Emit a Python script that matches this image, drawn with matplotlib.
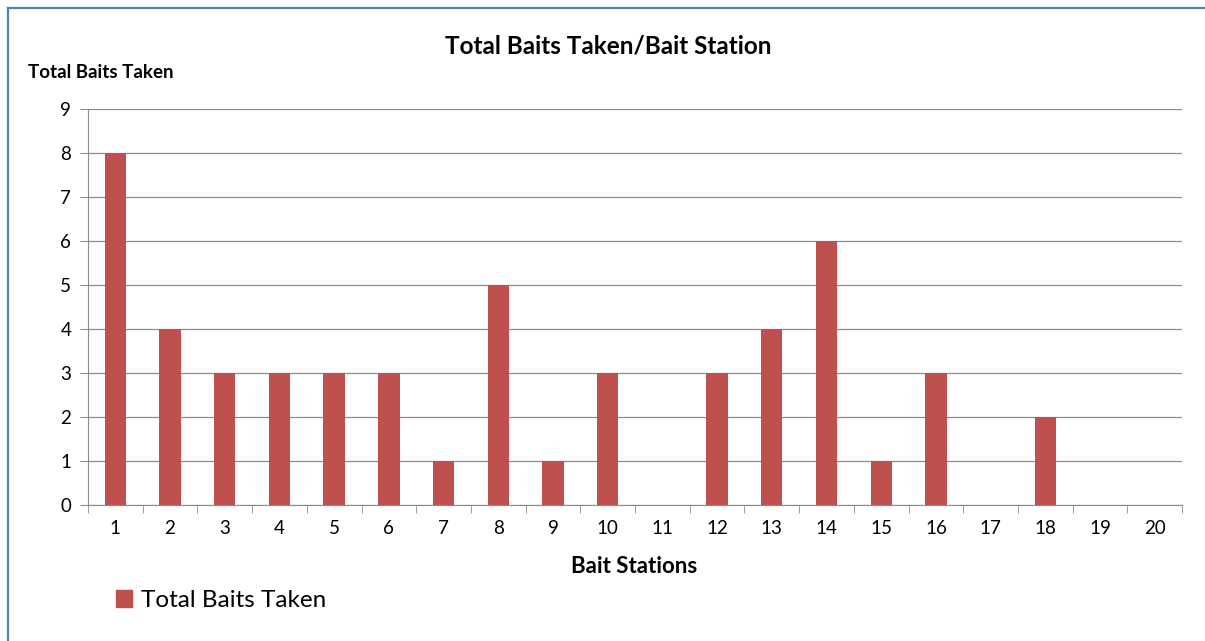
import matplotlib
matplotlib.use('Agg')
import matplotlib.pyplot as plt
from matplotlib.lines import Line2D
from matplotlib.patches import Patch

stations = [str(i) for i in range(1, 21)]
baits_taken = [8, 4, 3, 3, 3, 3, 1, 5, 1, 3, 0, 3, 4, 6, 1, 3, 0, 2, 0, 0]
y_ticks = list(range(0, 10))

bar_color = '#C0504D'
grid_color = '#8C8C8C'
border_color = '#4F81BD'
font_name = 'Lato'

plt.rcParams['font.family'] = [font_name, 'DejaVu Sans']

fig = plt.figure(figsize=(12.05, 6.41), dpi=100)
ax = fig.add_axes([0.073, 0.212, 0.908, 0.618])

x = list(range(len(stations)))
ax.bar(x, baits_taken, width=0.39, color=bar_color, zorder=3)

ax.set_xlim(-0.5, len(stations) - 0.5)
ax.set_ylim(0, 9)
ax.set_yticks(y_ticks)
ax.set_xticks(x)
ax.set_xticklabels(stations)
ax.set_xticks([i - 0.5 for i in range(len(stations) + 1)], minor=True)
ax.tick_params(axis='x', which='major', length=0, pad=11, labelsize=13.5)
ax.tick_params(axis='x', which='minor', length=6, color=grid_color, direction='out')
ax.tick_params(axis='y', length=6, color=grid_color, labelsize=13.5, pad=6)

ax.yaxis.grid(True, color=grid_color, linewidth=0.9, zorder=0)
for side in ['top', 'right']:
    ax.spines[side].set_visible(False)
ax.spines['left'].set_color(grid_color)
ax.spines['bottom'].set_color(grid_color)

fig.text(0.505, 0.928, 'Total Baits Taken/Bait Station', ha='center', va='center',
         fontsize=17.5, fontweight='bold')
fig.text(0.023, 0.887, 'Total Baits Taken', ha='left', va='center',
         fontsize=13.5, fontweight='bold')
fig.text(0.526, 0.117, 'Bait Stations', ha='center', va='center',
         fontsize=16, fontweight='bold')

fig.legend(handles=[Patch(color=bar_color, label='Total Baits Taken')],
           loc='center left', bbox_to_anchor=(0.078, 0.063), frameon=False,
           fontsize=17.5, handlelength=0.65, handleheight=0.65, handletextpad=0.4)

# only the top and left edges of the chart frame show
fig.lines.append(Line2D([0.0065, 1.0], [0.9875, 0.9875], transform=fig.transFigure,
                        color=border_color, linewidth=1.6))
fig.lines.append(Line2D([0.0065, 0.0065], [0.0, 0.9875], transform=fig.transFigure,
                        color=border_color, linewidth=1.6))

plt.savefig('out.png', dpi=100)
